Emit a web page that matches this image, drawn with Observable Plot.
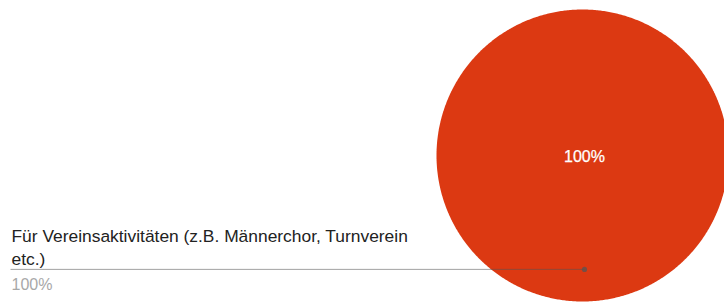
<!DOCTYPE html>
<html>
<head>
<meta charset="utf-8">
<script src="https://cdn.jsdelivr.net/npm/d3@7"></script>
<script src="https://cdn.jsdelivr.net/npm/@observablehq/plot@0.6"></script>
<style>
  html, body { margin: 0; padding: 0; background: #fff; overflow: hidden; }
  #chart { width: 724px; height: 304px; }
</style>
</head>
<body>
<div id="chart"></div>
<script>
// ---- data ----
const categories = ["Für Vereinsaktivitäten (z.B. Männerchor, Turnverein etc.)"];
const categoryLabelLines = [["Für Vereinsaktivitäten (z.B. Männerchor, Turnverein", "etc.)"]];
const values = [100];
const sliceColors = ["#dc3912"];

// ---- layout ----
const W = 724, H = 304;
const cx = 582, cy = 155, R = 146;
const legendX = 11, legendTop = 225;
const FONT = "'Liberation Sans', Arial, Helvetica, sans-serif";

const total = d3.sum(values);
const arcs = d3.pie().sort(null).value(d => d)(values);

// polygon points for each slice
const slicePoints = [];
arcs.forEach((a, i) => {
  const full = (a.endAngle - a.startAngle) >= 2 * Math.PI - 1e-9;
  const n = Math.max(8, Math.ceil((a.endAngle - a.startAngle) / (Math.PI / 360)));
  if (!full) slicePoints.push({slice: i, x: cx, y: cy, color: sliceColors[i]});
  for (let k = 0; k <= (full ? n - 1 : n); k++) {
    const t = a.startAngle + (a.endAngle - a.startAngle) * k / n;
    slicePoints.push({slice: i, x: cx + R * Math.sin(t), y: cy - R * Math.cos(t), color: sliceColors[i]});
  }
});

// slice percent labels
const sliceLabels = arcs.map((a, i) => {
  const full = (a.endAngle - a.startAngle) >= 2 * Math.PI - 1e-9;
  const mid = (a.startAngle + a.endAngle) / 2;
  const rr = full ? 0 : R * 0.6;
  return {x: cx + 2 + rr * Math.sin(mid), y: cy + 1 - rr * Math.cos(mid),
          text: Math.round(values[i] / total * 100) + "%"};
});

// leader anchors
const leaders = arcs.map((a, i) => {
  const mid = (a.startAngle + a.endAngle) / 2;
  return {x1: legendX - 1, x2: cx + 0.78 * R * Math.sin(mid) + 2, y: cy - 0.78 * R * Math.cos(mid)};
});

const legendText = categoryLabelLines.map((lines, i) => ({x: legendX, y: legendTop, text: lines.join("\n")}));
const legendPct = values.map((v, i) => ({x: legendX, y: legendTop + 53, text: Math.round(v / total * 100) + "%"}));

const plot = Plot.plot({
  width: W,
  height: H,
  margin: 0,
  x: {domain: [0, W], range: [0, W], axis: null},
  y: {domain: [0, H], range: [0, H], axis: null},
  color: {type: "identity"},
  style: {fontFamily: FONT, background: "#fff"},
  marks: [
    Plot.line(slicePoints, {x: "x", y: "y", z: "slice", fill: "color", stroke: "none", curve: "linear-closed"}),
    Plot.text(sliceLabels, {x: "x", y: "y", text: "text", fill: "#fff", fontSize: 16, textAnchor: "middle", fontFamily: FONT, stroke: "#fff", strokeWidth: 0.25}),
    Plot.link(leaders, {x1: "x1", x2: "x2", y1: "y", y2: "y", stroke: "#555", strokeOpacity: 0.55, strokeWidth: 1}),
    Plot.dot(leaders, {x: "x2", y: "y", r: 2.6, fill: "#555", fillOpacity: 0.75, stroke: "none"}),
    Plot.text(legendText, {x: "x", y: "y", text: "text", textAnchor: "start", lineAnchor: "top", lineHeight: 1.33, fontSize: 17.4, fill: "#222", fontFamily: FONT}),
    Plot.text(legendPct, {x: "x", y: "y", text: "text", textAnchor: "start", lineAnchor: "top", fontSize: 16, fill: "#a8a8a8", fontFamily: FONT})
  ]
});
document.getElementById("chart").appendChild(plot);
</script>
</body>
</html>
